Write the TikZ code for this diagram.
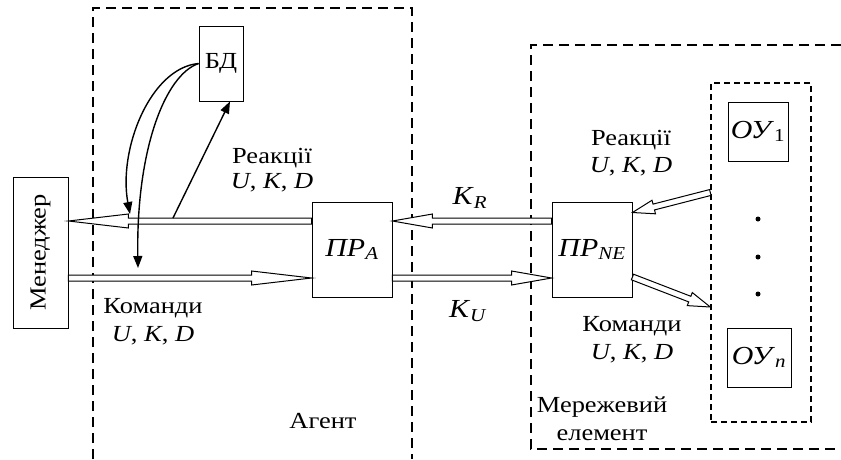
\documentclass[tikz,border=0pt]{standalone}
\usepackage{fontspec}
\setmainfont{Liberation Serif}[FakeStretch=1.15]
\usetikzlibrary{arrows.meta,calc,positioning}

% wide hollow arrow: [head length]{from}{to}
\newcommand{\bigarrow}[3][40pt]{%
  \coordinate (ba) at ($(#3)!#1!(#2)$);
  \draw[hollow] ($(#2)!3pt!90:(#3)$) -- ($(ba)!3pt!90:(#3)$)
    -- ($(ba)!7pt!90:(#3)$) -- (#3) -- ($(ba)!7pt!-90:(#3)$)
    -- ($(ba)!3pt!-90:(#3)$) -- ($(#2)!3pt!-90:(#3)$) -- cycle;}

\begin{document}
\begin{tikzpicture}[x=1pt,y=-1pt,thin,font=\fontsize{23}{26}\selectfont]
\tikzstyle{block}=[draw,line width=0.9pt,inner sep=0pt,fill=white]
\tikzstyle{frame}=[dash pattern=on 10pt off 6pt,line width=1.6pt]
\tikzstyle{subframe}=[draw,dash pattern=on 6pt off 4pt,line width=1.4pt]
\tikzstyle{hollow}=[draw,fill=white,line width=1pt,line join=miter]
\tikzstyle{thinarrow}=[-{Triangle[length=12pt,width=9pt]},line width=1.4pt]
\tikzstyle{big}=[font=\fontsize{26}{30}\selectfont]

\fill[white] (0,0) rectangle (841,459);
\useasboundingbox (0,0) rectangle (841,459);

% frames
\draw[frame] (93,459) -- (93,8) -- (412,8) -- (412,459);
\draw[frame] (841,45) -- (531,45) -- (531,449) -- (841,449);
\node[subframe,minimum width=100pt,minimum height=339pt] (ougrp) at (761,252.5) {};

\node[block,minimum width=55pt,minimum height=151pt] (mgr) at (40.5,252.5) {\rotatebox{90}{Менеджер}};
\node[block,minimum width=44pt,minimum height=75pt] (bd) at (221,63.5) {БД};
\node[block,big,minimum width=80pt,minimum height=95pt] (prA) at (352,249.5) {\textit{ПР}\textsubscript{\textit{A}}};
\node[block,big,minimum width=80pt,minimum height=95pt] (prNE) [right of=prA,node distance=240pt] {\textit{ПР}\textsubscript{\textit{NE}}};
\node[block,big,minimum width=60pt,minimum height=59pt] (ou1) at (758,131.5) {\textit{ОУ}\textsubscript{1}};
\node[block,big,minimum width=64pt,minimum height=59pt] (oun) at (759,357.5) {\textit{ОУ}\textsubscript{\textit{n}}};

\node[circle,fill,inner sep=0pt,minimum size=5pt] (dot1) at (758,219) {};
\node[circle,fill,inner sep=0pt,minimum size=5pt] (dot2) [below of=dot1,node distance=38pt] {};
\node[circle,fill,inner sep=0pt,minimum size=5pt] (dot3) [below of=dot2,node distance=37pt] {};

% labels
\node (reakA) at (272,158) {Реакції};
\node (ukdA) [below of=reakA,node distance=25pt] {\textit{U}, \textit{K}, \textit{D}};
\node (komA) at (153,308) {Команди};
\node (ukdB) [below of=komA,node distance=28pt] {\textit{U}, \textit{K}, \textit{D}};
\node (agent) at (323,421) {Агент};
\node[big] (kr) at (470,198) {\textit{K}\textsubscript{\textit{R}}};
\node[big] (ku) at (468,311) {\textit{K}\textsubscript{\textit{U}}};
\node (reakN) at (631,140) {Реакції};
\node (ukdN) [below of=reakN,node distance=27pt] {\textit{U}, \textit{K}, \textit{D}};
\node (komN) at (632,326) {Команди};
\node (ukdM) [below of=komN,node distance=28pt] {\textit{U}, \textit{K}, \textit{D}};
\node (mer) at (602,407) {Мережевий};
\node (elem) [below of=mer,node distance=28pt] {елемент};

% arrow ends
\coordinate (aU) at ([yshift=28.5pt]prA.west);
\coordinate (aD) at ([yshift=-28.5pt]prA.west);
\coordinate (aU2) at ([yshift=28.5pt]prA.east);
\coordinate (aD2) at ([yshift=-28.5pt]prA.east);
\coordinate (mU) at (mgr.east |- aU);
\coordinate (mD) at (mgr.east |- aD);
\coordinate (nU) at (prNE.west |- aU2);
\coordinate (nD) at (prNE.west |- aD2);
\coordinate (nS1) at ([yshift=37pt]prNE.east);
\coordinate (nS2) at ([yshift=-27.5pt]prNE.east);
\coordinate (oS1) at ([yshift=60pt]ougrp.west);
\coordinate (oS2) at ([yshift=-54.5pt]ougrp.west);

\bigarrow[60pt]{aU}{mU}
\bigarrow[60pt]{mD}{aD}
\bigarrow[40pt]{nU}{aU2}
\bigarrow[40pt]{aD2}{nD}
\bigarrow[22pt]{oS1}{nS1}
\bigarrow[22pt]{nS2}{oS2}

% links to the base
\coordinate (cA) at (130,214);
\coordinate (cB) at (138,268);
\coordinate (rx) at (173,218);
\draw[thinarrow] (bd.west) .. controls (150,68) and (118,150) .. (cA);
\draw[thinarrow] (bd.west) .. controls (165,75) and (136,150) .. (cB);
\path[thinarrow] (rx) edge ([xshift=9pt]bd.south);
\end{tikzpicture}
\end{document}
